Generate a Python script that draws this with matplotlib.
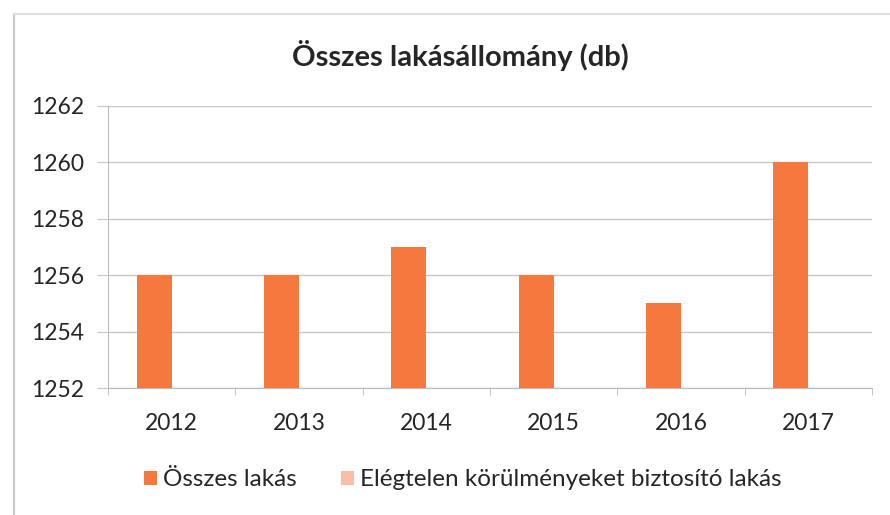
import matplotlib.pyplot as plt
import numpy as np

plt.rcParams["font.family"] = ["Lato", "DejaVu Sans"]

years = ["2012", "2013", "2014", "2015", "2016", "2017"]
osszes = [1256, 1256, 1257, 1256, 1255, 1260]
elegtelen = [0, 0, 0, 0, 0, 0]  # below the visible range

fig = plt.figure(figsize=(8.9, 5.15), dpi=100)
ax = fig.add_axes([0.1213, 0.2466, 0.8584, 0.5476])

x = np.arange(len(years))
w = 0.275
ax.bar(x - w / 2, osszes, w, color="#F5793F", label="Összes lakás", zorder=3)
ax.bar(x + w / 2, elegtelen, w, color="#F9BFA5",
       label="Elégtelen körülményeket biztosító lakás", zorder=3)

ax.set_ylim(1252, 1262)
ax.set_yticks(range(1252, 1263, 2))
ax.set_xlim(-0.5, len(years) - 0.5)
ax.set_xticks(x)
ax.set_xticklabels(years)
ax.set_xticks(np.arange(-0.5, len(years)), minor=True)
ax.tick_params(axis="x", which="major", length=0, pad=18, labelsize=16.5,
               labelcolor="#262626")
ax.tick_params(axis="x", which="minor", length=5, color="#BBBBBB")
ax.tick_params(axis="y", length=8, pad=9, color="#C8C8C8", labelsize=16.5,
               labelcolor="#262626")
ax.grid(axis="y", color="#C8C8C8", linewidth=1, zorder=0)
for s in ["top", "right"]:
    ax.spines[s].set_visible(False)
for s in ["left", "bottom"]:
    ax.spines[s].set_color("#BBBBBB")

fig.text(0.517, 0.893, "Összes lakásállomány (db)", ha="center", va="center",
         fontsize=21, fontweight="bold", color="#262626")

fig.legend(loc="center", bbox_to_anchor=(0.52, 0.068), ncol=2, frameon=False,
           fontsize=17.5, handlelength=0.55, handleheight=0.55, handletextpad=0.25,
           columnspacing=1.8, labelcolor="#262626")

# partial border of the chart area
fig.add_artist(plt.Line2D([14 / 890, 14 / 890], [0, 1 - 14 / 515],
                          color="#C8C8C8", linewidth=1.5))
fig.add_artist(plt.Line2D([14 / 890, 1], [1 - 14 / 515, 1 - 14 / 515],
                          color="#DDDDDD", linewidth=1.5))

fig.savefig("out.png", dpi=100)
